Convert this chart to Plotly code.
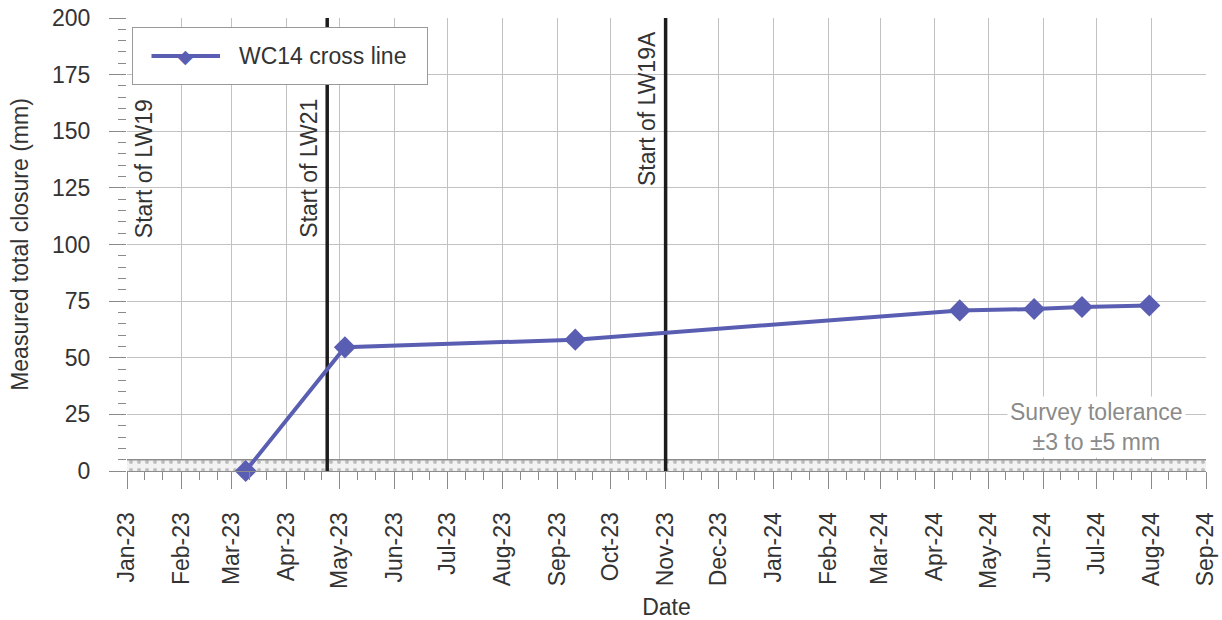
import pandas as pd
import plotly.graph_objects as go

# Survey results: WC14 cross line
survey_dates = ["2023-03-09", "2023-05-04", "2023-09-11", "2024-04-15",
                "2024-05-27", "2024-06-23", "2024-07-31"]
closure_mm = [0.0, 54.6, 58.0, 70.9, 71.5, 72.4, 73.1]

# Longwall start events drawn as vertical lines
event_dates = ["2023-04-24", "2023-11-01"]
event_labels = ["Start of LW21", "Start of LW19A"]

# LW19 started before the plotted period; only its label is shown
lw19_label = "Start of LW19"
lw19_label_date = "2023-01-11"

tolerance_mm = 5
x_start, x_end = "2023-01-01", "2024-09-01"
y_ticks = [0, 25, 50, 75, 100, 125, 150, 175, 200]

FONT = "Liberation Sans, Arial, sans-serif"
TXT = "#333333"
LINE_COL = "#5a5eb2"
GRID = "#c2c2c2"
TICK = "#8a8a8a"

# plot area in pixels (used for legend placement in paper coords)
L, R, T, B = 127, 1206, 18, 471
W, H = 1222, 620


def px(x):
    return (x - L) / (R - L)


def py(y):
    return (B - y) / (B - T)


fig = go.Figure()

# survey tolerance band 0..5 mm (dotted)
fig.add_trace(go.Scatter(
    x=[x_start, x_end, x_end, x_start, x_start],
    y=[0, 0, tolerance_mm, tolerance_mm, 0],
    mode="lines", line=dict(width=0), fill="toself",
    fillcolor="#f0f0f0",
    fillpattern=dict(shape=".", fgcolor="#8a8a8a", bgcolor="#f2f2f2",
                     size=8, solidity=0.2),
    hoverinfo="skip", showlegend=False))
fig.add_trace(go.Scatter(
    x=[x_start, x_end], y=[tolerance_mm, tolerance_mm], mode="lines",
    line=dict(color="#8c8c8c", width=1.5), hoverinfo="skip", showlegend=False))

# event lines
for d in event_dates:
    fig.add_trace(go.Scatter(
        x=[d, d], y=[0, 200], mode="lines",
        line=dict(color="#1c1c1c", width=3.5),
        hoverinfo="skip", showlegend=False))

# closure series
fig.add_trace(go.Scatter(
    x=survey_dates, y=closure_mm, mode="lines+markers",
    name="WC14 cross line",
    line=dict(color=LINE_COL, width=4),
    marker=dict(symbol="diamond", size=17, color=LINE_COL),
    cliponaxis=False, showlegend=False))

annotations = []

# event labels
annotations.append(dict(
    x=lw19_label_date, y=102, xref="x", yref="y", text=lw19_label,
    textangle=-90, showarrow=False, xanchor="center", yanchor="bottom",
    font=dict(family=FONT, size=23, color=TXT)))
for d, lab, ybot in zip(event_dates, event_labels, [102, 125]):
    annotations.append(dict(
        x=d, y=ybot, xref="x", yref="y", text=lab, textangle=-90,
        showarrow=False, xanchor="right", yanchor="bottom", xshift=-3,
        font=dict(family=FONT, size=23, color=TXT)))

# survey tolerance note
annotations.append(dict(
    x="2024-07-01", y=19.5, xref="x", yref="y",
    text="Survey tolerance<br>±3 to ±5 mm", showarrow=False,
    align="center", xanchor="center", yanchor="middle",
    bgcolor="white", borderpad=2,
    font=dict(family=FONT, size=23, color="#8a8a8a")))

# legend box
annotations.append(dict(
    x=px(132), y=py(27), xref="paper", yref="paper", text=" ",
    xanchor="left", yanchor="top", width=294, height=56, borderpad=0,
    bgcolor="white", bordercolor="#9a9a9a", borderwidth=1, showarrow=False))
annotations.append(dict(
    x=px(220), y=py(56), xref="paper", yref="paper", text="",
    showarrow=True, ax=-70, ay=0, axref="pixel", ayref="pixel",
    arrowhead=0, arrowwidth=4, arrowcolor=LINE_COL, standoff=0))
annotations.append(dict(
    x=px(185), y=py(56), xref="paper", yref="paper", text="◆",
    showarrow=False, xanchor="center", yanchor="middle",
    font=dict(family="DejaVu Sans", size=19, color=LINE_COL)))
annotations.append(dict(
    x=px(237), y=py(56), xref="paper", yref="paper", text="WC14 cross line",
    showarrow=False, xanchor="left", yanchor="middle",
    font=dict(family=FONT, size=23, color=TXT)))

# minor x ticks on the 11th and 21st of each month
months = pd.date_range(x_start, x_end, freq="MS")
minor_x = [m + pd.Timedelta(days=k) for m in months[:-1] for k in (10, 20)]

fig.update_layout(
    width=W, height=H,
    margin=dict(l=L, r=W - R, t=T, b=H - B, autoexpand=False),
    paper_bgcolor="white", plot_bgcolor="white",
    font=dict(family=FONT, size=23, color=TXT),
    annotations=annotations,
    showlegend=False,
    xaxis=dict(
        type="date", range=[x_start, x_end], tick0=x_start, dtick="M1",
        tickformat="%b-%y", tickangle=-90,
        ticks="outside", ticklen=17, tickwidth=1, tickcolor=TICK,
        ticklabelstandoff=14,
        showgrid=True, gridcolor=GRID, gridwidth=1,
        showline=True, linecolor="#8c8c8c", linewidth=1,
        zeroline=False,
        minor=dict(tickmode="array", tickvals=minor_x, ticks="outside",
                   ticklen=8, tickcolor=TICK, showgrid=False),
        tickfont=dict(family=FONT, size=23, color=TXT),
        title=dict(text="Date", standoff=20,
                   font=dict(family=FONT, size=23, color=TXT)),
    ),
    yaxis=dict(
        range=[0, 200], tickvals=y_ticks,
        ticks="outside", ticklen=17, tickwidth=1, tickcolor=TICK,
        ticklabelstandoff=14,
        showgrid=True, gridcolor=GRID, gridwidth=1,
        showline=False, zeroline=False,
        minor=dict(dtick=5, ticks="outside", ticklen=8, tickcolor=TICK,
                   showgrid=False),
        tickfont=dict(family=FONT, size=23, color=TXT),
        title=dict(text="Measured total closure (mm)", standoff=16,
                   font=dict(family=FONT, size=23, color=TXT)),
    ),
)

fig.write_html("out.html")
